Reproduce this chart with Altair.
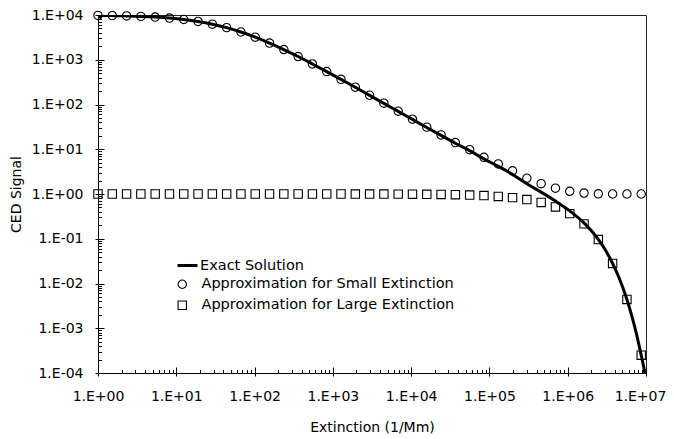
import math
import altair as alt
import pandas as pd

# ---- data ----
x_vals = [1, 1.522, 2.318, 3.53, 5.375, 8.185, 12.46, 18.97, 28.89, 43.99,
          66.99, 102.0, 155.3, 236.5, 360.1, 548.3, 835, 1271, 1936, 2947,
          4487, 6833, 10404, 15842, 24121, 36728, 55925, 85154, 129660, 197420,
          300600, 457720, 696950, 1061200, 1615800, 2460400, 3746300, 5704300, 8685800]

small_vals = [9800, 9690, 9540, 9315, 8990, 8540, 7940, 7170, 6240, 5220,
              4170, 3200, 2360, 1690, 1180, 805, 544, 365, 244, 161,
              107, 70.7, 46.9, 31.2, 20.9, 14.1, 9.8, 6.6, 4.7, 3.3,
              2.25, 1.7, 1.35, 1.15, 1.05, 1.01, 1.0, 1.0, 1.0]

large_vals = [1.0, 1.0, 1.0, 1.0, 1.0, 1.0, 1.0, 1.0, 1.0, 1.0,
              1.0, 1.0, 1.0, 1.0, 1.0, 1.0, 1.0, 1.0, 0.998, 0.997,
              0.996, 0.994, 0.99, 0.985, 0.977, 0.965, 0.948, 0.922, 0.884, 0.83,
              0.75, 0.647, 0.515, 0.364, 0.215, 0.096, 0.028, 0.0044, 0.00025]

exact_x = [1, 1.522, 2.318, 3.53, 5.375, 8.185, 12.46, 18.97, 28.89, 43.99,
           66.99, 102.0, 155.3, 236.5, 360.1, 548.3, 835, 1271, 1936, 2947,
           4487, 6833, 10404, 15842, 24121, 36728, 55925, 85154, 129660, 197420,
           300600, 457720, 696950, 1061200, 1615800, 2460400, 3000000, 3746300, 4500000, 5000000,
           5704300, 6500000, 7500000, 8685800, 9200000, 9700000]

exact_vals = [9800, 9690, 9540, 9315, 8990, 8540, 7940, 7170, 6240, 5220,
              4170, 3200, 2360, 1690, 1180, 805, 544, 365, 243, 160,
              106, 70.3, 46.4, 30.7, 20.4, 13.6, 9.3, 6.1, 4.15, 2.74,
              1.69, 1.10, 0.695, 0.419, 0.226, 0.097, 0.0576, 0.028, 0.0138, 0.00855,
              0.0044, 0.00205, 0.00079, 0.00025, 0.000157, 0.000097]

series_exact = "Exact Solution"
series_small = "Approximation for Small Extinction"
series_large = "Approximation for Large Extinction"

x_major = [1, 10, 100, 1000, 10000, 100000, 1000000, 10000000]
x_major_labels = ["1.E+00", "1.E+01", "1.E+02", "1.E+03", "1.E+04", "1.E+05", "1.E+06", "1.E+07"]
y_major = [0.0001, 0.001, 0.01, 0.1, 1, 10, 100, 1000, 10000]
y_major_labels = ["1.E-04", "1.E-03", "1.E-02", "1.E-01", "1.E+00", "1.E+01", "1.E+02", "1.E+03", "1.E+04"]

x_title = "Extinction (1/Mm)"
y_title = "CED Signal"

# ---- tables ----
df_exact = pd.DataFrame({"x": exact_x, "y": exact_vals, "series": series_exact})
df_pts = pd.concat([
    pd.DataFrame({"x": x_vals, "y": small_vals, "series": series_small}),
    pd.DataFrame({"x": x_vals, "y": large_vals, "series": series_large}),
], ignore_index=True)


def minors(majors):
    return [m * v for v in majors[:-1] for m in range(2, 10)]


def label_expr(values, labels):
    parts = [f"abs(log(datum.value)/LN10 - ({math.log10(v):.4f})) < 0.01 ? '{lab}'"
             for v, lab in zip(values, labels)]
    return " : ".join(parts) + " : ''"


x_all = sorted(x_major + minors(x_major))
y_all = sorted(y_major + minors(y_major))
major_test = "abs(log(datum.value)/LN10 - round(log(datum.value)/LN10)) < 0.001"

W, H = 548, 358
FONT = "DejaVu Sans"

xs = alt.Scale(type="log", domain=[1, 10000000], nice=False)
ys = alt.Scale(type="log", domain=[0.0001, 10000], nice=False)

x_outer = alt.Axis(orient="bottom", values=x_major, labelExpr=label_expr(x_major, x_major_labels),
                   tickSize=3, labelPadding=13, labelFlush=False, labelFontSize=14,
                   labelOffset={"condition": {"test": "datum.value > 5000000", "value": -6},
                                "value": 0},
                   title=x_title, titleX=W / 2, titleY=54,
                   titleBaseline="middle", domainColor="black", domainWidth=1)
y_outer = alt.Axis(orient="left", values=y_major, labelExpr=label_expr(y_major, y_major_labels),
                   tickSize=3, labelPadding=12, labelFlush=False, labelFontSize=14,
                   title=y_title, titleX=-82, titleY=H / 2,
                   titleBaseline="middle", titleAngle=270, domainColor="black", domainWidth=1)

inner_size = {"condition": {"test": major_test, "value": 6}, "value": 3.5}
x_inner = alt.Axis(orient="top", offset=-H, values=x_all, labels=False, domain=False,
                   title="", tickSize=inner_size)
y_inner = alt.Axis(orient="right", offset=-W, values=y_all, labels=False, domain=False,
                   title="", tickSize=inner_size)

line = alt.Chart(df_exact).mark_line(color="black", strokeWidth=3, clip=True,
                                     interpolate="monotone").encode(
    x=alt.X("x:Q", scale=xs, axis=x_outer),
    y=alt.Y("y:Q", scale=ys, axis=y_outer),
    color=alt.Color("series:N", scale=alt.Scale(domain=[series_exact], range=["black"]),
                    legend=alt.Legend(title=None, orient="none", legendX=78, legendY=239,
                                      symbolType="stroke", symbolSize=400, symbolStrokeWidth=3,
                                      labelOffset=1, labelFont=FONT, labelFontSize=14.5,
                                      labelColor="black", labelLimit=400, padding=0)),
)

points = alt.Chart(df_pts).mark_point(filled=False, size=70, strokeWidth=1.1, color="black",
                                      opacity=1).encode(
    x=alt.X("x:Q", scale=xs, axis=x_inner),
    y=alt.Y("y:Q", scale=ys, axis=y_inner),
    shape=alt.Shape("series:N", scale=alt.Scale(domain=[series_small, series_large],
                                                range=["circle", "square"]),
                    legend=alt.Legend(title=None, orient="none", legendX=77, legendY=262,
                                      symbolSize=70, symbolStrokeColor="black",
                                      symbolStrokeWidth=1.1, symbolFillColor="white",
                                      labelOffset=12, rowPadding=6, labelFont=FONT,
                                      labelFontSize=14.5, labelColor="black", labelLimit=400,
                                      padding=0)),
)

chart = alt.layer(line, points).resolve_axis(x="independent", y="independent").properties(
    width=W, height=H, autosize="none",
    padding={"left": 90, "top": 7, "right": 20, "bottom": 64},
).configure_axis(
    labelFont=FONT, labelFontSize=13, titleFont=FONT, titleFontSize=14,
    titleFontWeight="normal", labelColor="black", titleColor="black",
    tickColor="black", grid=False,
).configure_view(stroke="#222", strokeWidth=1)

chart.save("out.html", embed_options={"renderer": "svg", "actions": False})
